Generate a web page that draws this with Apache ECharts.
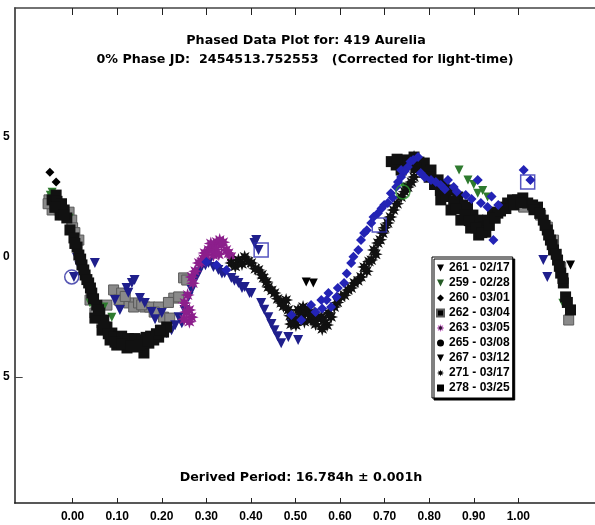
<!DOCTYPE html>
<html><head><meta charset="utf-8">
<script src="https://cdn.jsdelivr.net/npm/echarts@6/dist/echarts.min.js"></script>
<style>html,body{margin:0;padding:0;background:#fff}#c{width:595px;height:525px}</style>
</head><body><div id="c"></div>
<script>
// ---- data (phase, relative magnitude) ----
const titleLine1 = 'Phased Data Plot for: 419 Aurelia';
const titleLine2 = '0% Phase JD:  2454513.752553   (Corrected for light-time)';
const periodText = 'Derived Period: 16.784h \u00b1 0.001h';
const xTickValues = [0, 0.1, 0.2, 0.3, 0.4, 0.5, 0.6, 0.7, 0.8, 0.9, 1.0];
const xTickLabels = ['0.00','0.10','0.20','0.30','0.40','0.50','0.60','0.70','0.80','0.90','1.00'];
const yTickValues = [-0.5, 0, 0.5];
const yTickLabels = ['5', '0', '5'];
const legendNames = ['261 - 02/17','259 - 02/28','260 - 03/01','262 - 03/04','263 - 03/05','265 - 03/08','267 - 03/12','271 - 03/17','278 - 03/25'];

const s261 = [[0.010,0.005],[0.050,0.026],[0.095,0.180],[0.121,0.130],[0.133,0.109],[0.139,0.097],[0.106,0.221],[0.151,0.172],[0.162,0.192],[0.177,0.230],[0.200,0.234],[0.211,0.317],[0.222,0.305],[0.003,0.084],[1.056,0.014],[1.065,0.084],[0.015,0.040],[0.125,0.150],[0.185,0.260],
  [0.238,0.251],[0.245,0.276],[0.251,0.221],[0.260,0.167],[0.267,0.138],[0.278,0.084],[0.289,0.043],[0.305,0.026],[0.316,0.043],[0.327,0.055],[0.341,0.068],[0.356,0.088],[0.372,0.109],[0.386,0.126],[0.397,0.151],[0.408,-0.057],[0.417,-0.028],[0.412,-0.069],[0.401,0.151],[0.423,0.192],[0.439,0.251],[0.453,0.305],[0.468,0.359],[0.484,0.334],[0.491,0.276],[0.506,0.346],[0.230,0.285],[0.283,0.065],[0.298,0.035],[0.335,0.070],[0.363,0.100],[0.380,0.130],[0.430,0.220],[0.446,0.280],[0.460,0.330]];
const s259 = [[-0.046,-0.268],[-0.050,-0.255],[-0.008,-0.160],[0.039,0.192],[0.070,0.209],[0.088,0.251],[0.867,-0.360],[0.887,-0.319],[0.909,-0.264],[0.931,-0.248],[0.744,-0.289],[1.100,0.193],[0.900,-0.300],[0.920,-0.275]];
const s260 = [[0.574,0.151],[0.580,0.209],[0.592,0.167],[0.609,0.109],[0.625,0.026],[0.641,-0.028],[0.647,-0.069],[0.654,-0.098],[0.670,-0.140],[0.685,-0.181],[0.699,-0.215],[0.707,-0.223],[0.714,-0.264],[0.726,-0.289],[0.737,-0.331],[0.752,-0.373],[0.764,-0.402],[0.775,-0.414],[0.737,-0.360],[0.781,-0.348],[0.842,-0.319],[0.855,-0.289],[0.909,-0.319],[0.916,-0.223],[0.931,-0.206],[0.944,-0.069],[1.012,-0.360],[1.027,-0.319],[0.826,-0.298],[0.804,-0.319],[0.882,-0.256],[0.491,0.242],[0.513,0.263],[0.535,0.201],[0.558,0.180],[0.300,0.022],[0.323,0.034],[0.345,0.055],
  [0.595,0.130],[0.615,0.070],[0.630,0.000],[0.660,-0.110],[0.675,-0.165],[0.693,-0.200],[0.718,-0.245],[0.730,-0.310],[0.745,-0.355],[0.758,-0.395],[0.790,-0.330],[0.815,-0.310],[0.835,-0.280],[0.862,-0.270],[0.895,-0.240],[0.940,-0.250],[0.955,-0.215],[0.545,0.230],[0.560,0.215],[0.570,0.180]];
const s262 = [[-0.046,-0.194],[-0.053,-0.236],[-0.055,-0.220],[-0.040,-0.215],[-0.030,-0.195],[-0.008,-0.185],[-0.002,-0.152],[0.000,-0.120],[0.005,-0.100],[0.014,-0.069],[0.050,0.234],[0.066,0.276],[0.039,0.180],[0.092,0.138],[0.110,0.151],[0.126,0.192],[0.137,0.209],[0.148,0.192],[0.162,0.209],[0.173,0.209],[0.193,0.209],[0.204,0.251],[0.218,0.255],[0.227,0.172],[0.238,0.167],[0.249,0.088],[0.256,0.097],[0.104,0.180],[0.077,0.201],[0.118,0.165],[0.155,0.200],[0.183,0.230],[0.215,0.190],[1.012,-0.206],[1.065,-0.123],[1.079,-0.069],[1.095,0.043],[1.113,0.263],[1.050,-0.173]];
const s263 = [[0.251,0.192],[0.262,0.221],[0.267,0.251],[0.267,0.084],[0.283,0.026],[0.296,-0.015],[0.312,-0.040],[0.323,-0.061],[0.334,-0.049],[0.345,-0.028],[0.356,0.001],[0.316,-0.007],[0.289,0.022],[0.330,-0.069],[0.305,-0.028],[0.258,0.159],
  [0.300,-0.005],[0.310,-0.055],[0.320,-0.030],[0.328,-0.010],[0.338,-0.060],[0.350,-0.015],[0.293,0.010],[0.275,0.060],[0.270,0.110],[0.255,0.230],[0.262,0.270],[0.250,0.260]];
const s265 = [[-0.051,-0.351],[-0.037,-0.310]];
const s267 = [[0.524,0.105],[0.540,0.109],[1.117,0.034]];
const s271 = [[0.356,0.026],[0.372,0.014],[0.386,0.001],[0.401,0.026],[0.417,0.055],[0.428,0.088],[0.439,0.126],[0.453,0.151],[0.468,0.192],[0.484,0.221],[0.495,0.251],[0.506,0.221],[0.517,0.209],[0.529,0.221],[0.542,0.234],[0.558,0.251],[0.574,0.234],[0.587,0.209],[0.602,0.167],[0.618,0.138],[0.632,0.109],[0.647,0.084],[0.654,0.043],[0.670,0.014],[0.676,-0.028],[0.685,-0.057],[0.696,-0.098],[0.707,-0.140],[0.720,-0.194],[0.737,-0.248],[0.752,-0.289],[0.766,-0.331],[0.775,-0.373],[0.766,-0.414],[0.501,0.284],[0.479,0.180],[0.535,0.263],[0.571,0.284],
  [0.365,0.040],[0.380,0.030],[0.395,0.020],[0.410,0.050],[0.425,0.075],[0.435,0.105],[0.447,0.140],[0.460,0.175],[0.473,0.205],[0.488,0.245],[0.500,0.265],[0.512,0.240],[0.522,0.235],[0.533,0.245],[0.548,0.255],[0.563,0.265],[0.580,0.250],[0.594,0.190],[0.610,0.160],[0.625,0.130],[0.640,0.100],[0.660,0.060],[0.665,0.020],[0.680,-0.010],[0.690,-0.070],[0.700,-0.120],[0.713,-0.165],[0.728,-0.220],[0.745,-0.270],[0.760,-0.310],[0.490,0.280],[0.520,0.270],[0.545,0.280],[0.560,0.300]];
const s278 = [[-0.046,-0.236],[-0.031,-0.215],[-0.019,-0.194],[-0.013,-0.161],[-0.006,-0.111],[0.003,-0.078],[0.010,-0.040],[0.014,-0.007],[0.021,0.034],[0.028,0.076],[0.036,0.109],[0.043,0.151],[0.054,0.201],[0.061,0.234],[0.070,0.263],[0.077,0.292],[0.088,0.317],[0.104,0.334],[0.117,0.346],[0.133,0.354],[0.148,0.354],[0.160,0.400],[0.171,0.359],[0.182,0.346],[0.193,0.334],[0.204,0.313],[0.211,0.292],[0.084,0.346],[0.099,0.367],[0.122,0.379],[0.144,0.375],[0.050,0.255],[0.066,0.305],[-0.028,-0.173],[-0.037,-0.256],
  [-0.035,-0.230],[-0.025,-0.220],[-0.040,-0.205],[-0.020,-0.175],[0.005,-0.055],[0.018,0.010],[0.025,0.055],[0.032,0.095],[0.040,0.130],[0.047,0.175],[0.058,0.220],[0.070,0.290],[0.080,0.320],[0.092,0.335],[0.110,0.330],[0.125,0.340],[0.140,0.340],[0.155,0.345],[0.165,0.335],[0.175,0.330],[0.188,0.320],[0.197,0.305],[0.095,0.355],[0.110,0.362],[0.130,0.370],[0.150,0.365],[0.170,0.350],
  [0.744,-0.381],[0.748,-0.402],[0.766,-0.414],[0.777,-0.393],[0.789,-0.389],[0.804,-0.360],[0.820,-0.319],[0.833,-0.298],[0.842,-0.277],[0.864,-0.248],[0.875,-0.215],[0.886,-0.206],[0.898,-0.173],[0.909,-0.152],[0.922,-0.123],[0.931,-0.152],[0.942,-0.185],[0.954,-0.181],[0.965,-0.206],[0.976,-0.223],[0.987,-0.236],[0.998,-0.236],[1.010,-0.244],[1.021,-0.223],[1.032,-0.215],[1.043,-0.206],[1.056,-0.152],[1.065,-0.111],[1.072,-0.069],[1.079,-0.028],[1.088,0.014],[1.095,0.068],[1.101,0.109],[1.106,0.167],[1.117,0.221],[0.849,-0.194],[0.871,-0.152],[0.893,-0.119],[0.911,-0.090],[0.927,-0.102],[0.826,-0.236],[0.726,-0.381],[0.737,-0.360],
  [0.715,-0.395],[0.728,-0.405],[0.758,-0.385],[0.770,-0.370],[0.790,-0.350],[0.800,-0.330],[0.812,-0.300],[0.825,-0.275],[0.838,-0.250],[0.855,-0.230],[0.860,-0.200],[0.880,-0.175],[0.890,-0.150],[0.905,-0.120],[0.918,-0.100],[0.935,-0.130],[0.948,-0.160],[0.960,-0.190],[0.972,-0.200],[0.990,-0.215],[1.005,-0.225],[1.035,-0.195],[1.048,-0.180],[1.060,-0.130],[1.068,-0.090],[1.076,-0.050],[1.085,-0.010],[1.092,0.040],[1.100,0.090],[1.110,0.190]];
const openCircles = [[-0.002,0.084]];
const openCirclesGreen = [[0.741,-0.269]];
const openSquares = [[0.423,-0.028],[0.688,-0.132],[1.021,-0.310]];

const FONT = 'Liberation Sans, Arial, sans-serif';
const WFONT = '"DejaVu Sans", Verdana, sans-serif';
const TRI = 'path://M0,0 L10,0 L5,10 Z';
const STAR = 'path://M50,0 L59,28 L85,15 L72,41 L100,50 L72,59 L85,85 L59,72 L50,100 L41,72 L15,85 L28,59 L0,50 L28,41 L15,15 L41,28 Z';

const chart = echarts.init(document.getElementById('c'), null, {renderer:'canvas'});
function sc(name, data, symbol, size, color, border, z) {
  return {type:'scatter', name, data, symbol, symbolSize:size, z:z||2,
    itemStyle:{color, borderColor:border||color, borderWidth:border?1:0, opacity:1}, emphasis:{disabled:true}};
}
const option = {
  animation:false,
  backgroundColor:'#fff',
  grid:{left:13, top:8, right:0, bottom:22, containLabel:false},
  xAxis:[{
    type:'value', min:-0.13, max:1.172, position:'bottom',
    axisLine:{show:true, onZero:false, lineStyle:{color:'#222', width:1.5}},
    axisTick:{show:true, inside:true, length:5, customValues:xTickValues, lineStyle:{color:'#222'}},
    axisLabel:{show:true, customValues:xTickValues, margin:8, color:'#000', fontFamily:FONT, fontWeight:'bold', fontSize:12,
      formatter:(v)=>{const i=xTickValues.findIndex(t=>Math.abs(t-v)<1e-6);return i>=0?xTickLabels[i]:'';}},
    splitLine:{show:false}
  },{
    type:'value', min:-0.13, max:1.172, position:'top',
    axisLine:{show:true, onZero:false, lineStyle:{color:'#444', width:1.5}},
    axisTick:{show:true, inside:true, length:7, customValues:xTickValues, lineStyle:{color:'#222'}},
    axisLabel:{show:false}, splitLine:{show:false}
  }],
  yAxis:{
    type:'value', inverse:true, min:-1.033, max:1.023,
    axisLine:{show:true, onZero:false, lineStyle:{color:'#222', width:1.5}},
    axisTick:{show:true, inside:true, length:8, customValues:[0.5], lineStyle:{color:'#444'}},
    axisLabel:{show:true, customValues:yTickValues, margin:5, color:'#000', fontFamily:FONT, fontWeight:'bold', fontSize:12,
      formatter:(v)=>{const i=yTickValues.findIndex(t=>Math.abs(t-v)<1e-6);return i>=0?yTickLabels[i]:'';}},
    splitLine:{show:false}
  },
  legend:{
    show:true, orient:'vertical', left:432, top:257, selectedMode:false,
    padding:[5,3,4,4], itemGap:3, itemWidth:7, itemHeight:7,
    backgroundColor:'#fff', borderColor:'#000', borderWidth:1,
    shadowColor:'#000', shadowOffsetX:2, shadowOffsetY:2, shadowBlur:0,
    textStyle:{fontFamily:FONT, fontWeight:'bold', fontSize:12, lineHeight:11, color:'#000'},
    data:[
      {name:legendNames[0], icon:TRI, itemStyle:{color:'#000'}},
      {name:legendNames[1], icon:TRI, itemStyle:{color:'#245a24'}},
      {name:legendNames[2], icon:'diamond', itemStyle:{color:'#000'}},
      {name:legendNames[3], icon:'rect', itemStyle:{color:'#000'}},
      {name:legendNames[4], icon:STAR, itemStyle:{color:'#2a102a', borderColor:'#e070e0', borderWidth:0.5}},
      {name:legendNames[5], icon:'circle', itemStyle:{color:'#000'}},
      {name:legendNames[6], icon:TRI, itemStyle:{color:'#000'}},
      {name:legendNames[7], icon:STAR, itemStyle:{color:'#000'}},
      {name:legendNames[8], icon:'rect', itemStyle:{color:'#000'}}
    ]
  },
  series:[
    sc(legendNames[3], s262, 'rect', 10, '#8a8a8a', '#5a5a5a', 2),
    sc(legendNames[0], s261, TRI, 10, '#1f1f8c', null, 3),
    sc(legendNames[1], s259, TRI, 9, '#2e7a2e', null, 3),
    sc(legendNames[4], s263, STAR, 14, '#8c1f8c', null, 3),
    sc(legendNames[7], s271, STAR, 14, '#111111', null, 4),
    sc(legendNames[8], s278, 'rect', 11, '#111111', null, 4),
    sc(legendNames[2], s260, 'diamond', 10, '#2323b5', null, 5),
    sc(legendNames[5], s265, 'diamond', 9, '#000000', null, 5),
    sc(legendNames[6], s267, TRI, 9, '#000000', null, 5),
    {type:'scatter', data:openCircles, symbol:'circle', symbolSize:14, z:6, itemStyle:{color:'rgba(0,0,0,0)', borderColor:'#2a2aa0', borderWidth:1.5}},
    {type:'scatter', data:openCirclesGreen, symbol:'circle', symbolSize:14, z:6, itemStyle:{color:'rgba(0,0,0,0)', borderColor:'#2e9a2e', borderWidth:1.5}},
    {type:'scatter', data:openSquares, symbol:'rect', symbolSize:14, z:6, itemStyle:{color:'rgba(0,0,0,0)', borderColor:'#2a2ab0', borderWidth:1.5}}
  ],
  graphic:[
    {type:'text', x:306, y:41, style:{text:titleLine1, fill:'#000', font:'bold 12.7px '+WFONT, align:'center', verticalAlign:'middle'}},
    {type:'text', x:305, y:60, style:{text:titleLine2, fill:'#000', font:'bold 12.7px '+WFONT, align:'center', verticalAlign:'middle'}},
    {type:'text', x:301, y:478, style:{text:periodText, fill:'#000', font:'bold 12.7px '+WFONT, align:'center', verticalAlign:'middle'}}
  ]
};
chart.setOption(option);
</script>
</body></html>
